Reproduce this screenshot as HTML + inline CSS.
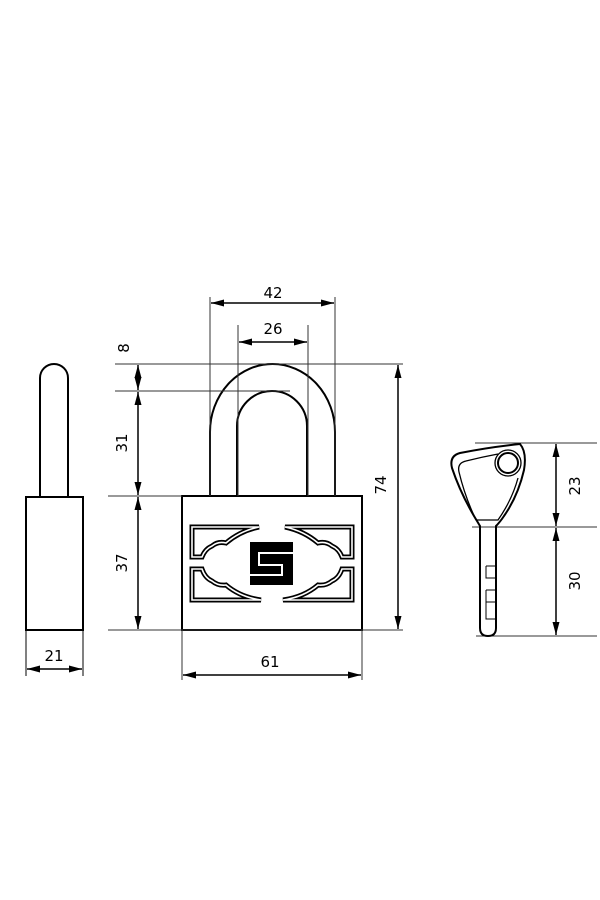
<!DOCTYPE html>
<html><head><meta charset="utf-8"><style>
html,body{margin:0;padding:0;background:#fff;}
svg{display:block;}
text{font-family:"DejaVu Sans","Liberation Sans",sans-serif;font-size:15px;fill:#000;}
</style></head><body>
<svg width="600" height="900" viewBox="0 0 600 900" xmlns="http://www.w3.org/2000/svg">
<defs>
<marker id="a" viewBox="0 0 13 8" refX="13" refY="4" markerWidth="13" markerHeight="8" markerUnits="userSpaceOnUse" orient="auto-start-reverse">
<path d="M0,0.5 L13,4 L0,7.5 Z" fill="#000"/>
</marker>
</defs>
<g fill="none" stroke="#000">
<!-- side view -->
<path d="M40,497 V378 A14,14 0 0 1 68,378 V497" stroke-width="2"/>
<rect x="26" y="497" width="57" height="133" stroke-width="2"/>
<path d="M26,630 V676 M83,630 V676" stroke-width="1"/>
<line x1="27" y1="669" x2="82" y2="669" stroke-width="1.5" marker-start="url(#a)" marker-end="url(#a)"/>

<!-- front shackle -->
<path d="M210,496 V432 A62.5,68 0 0 1 335,432 V496" stroke-width="2"/>
<path d="M237,496 V426 A35,35 0 0 1 307,426 V496" stroke-width="2"/>
<!-- body -->
<rect x="182" y="496" width="180" height="134" stroke-width="2"/>

<!-- extension lines -->
<g stroke-width="1" stroke="#333">
<path d="M210,297 V496 M335,297 V496 M238,325 V496 M308,325 V496"/>
<path d="M115,364 H403 M115,391 H290 M108,496 H182 M108,630 H403"/>
<path d="M182,630 V680 M362,630 V680"/>
<path d="M475,443 H597 M472,527 H597 M476,636 H597"/>
</g>
<!-- dimension lines -->
<g stroke-width="1.5">
<line x1="211" y1="303" x2="334" y2="303" marker-start="url(#a)" marker-end="url(#a)"/>
<line x1="239" y1="342" x2="307" y2="342" marker-start="url(#a)" marker-end="url(#a)"/>
<line x1="138" y1="365" x2="138" y2="390" marker-start="url(#a)" marker-end="url(#a)"/>
<line x1="138" y1="392" x2="138" y2="495" marker-start="url(#a)" marker-end="url(#a)"/>
<line x1="138" y1="497" x2="138" y2="629" marker-start="url(#a)" marker-end="url(#a)"/>
<line x1="398" y1="365" x2="398" y2="629" marker-start="url(#a)" marker-end="url(#a)"/>
<line x1="183" y1="675" x2="361" y2="675" marker-start="url(#a)" marker-end="url(#a)"/>
<line x1="556" y1="444" x2="556" y2="526" marker-start="url(#a)" marker-end="url(#a)"/>
<line x1="556" y1="528" x2="556" y2="635" marker-start="url(#a)" marker-end="url(#a)"/>
</g>

<!-- cutouts -->
<g id="cut">
<path d="M259,527 H192 V557 H202 Q205,549 212,546 Q218,541 226,543 Q240,531 259,527 Z" stroke-width="5"/>
<path d="M259,527 H192 V557 H202 Q205,549 212,546 Q218,541 226,543 Q240,531 259,527 Z" stroke="#fff" stroke-width="1.6"/>
<path d="M261,600 H192 V569 H202 Q205,578 212,581 Q218,586 226,585 Q240,597 261,600 Z" stroke-width="5"/>
<path d="M261,600 H192 V569 H202 Q205,578 212,581 Q218,586 226,585 Q240,597 261,600 Z" stroke="#fff" stroke-width="1.6"/>
</g>
<use href="#cut" transform="translate(544,0) scale(-1,1)"/>

<!-- key -->
<path d="M480,526 V628 Q480,636 488,636 Q496,636 496,628 V526 Q500,522 504,516 Q518,496 524,470 Q527,452 520,444 Q490,447 460,453 Q449,456 452,468 Q460,492 474,516 Q477,521 480,526 Z" stroke-width="2"/>
<path d="M476,520 Q465,497 459,472 Q457,463 466,461 Q482,457 498,454" stroke-width="1.3"/>
<path d="M476,520 H498 Q512,500 518,478" stroke-width="1.3"/>
<circle cx="508" cy="463" r="13" stroke-width="1.3"/>
<circle cx="508" cy="463" r="10" stroke-width="2"/>
<path d="M486,566 H496 M486,566 V578 H496 M486,590 H496 M486,590 V619 H496 M486,602 H496" stroke-width="1"/>
</g>

<!-- S logo -->
<rect x="250" y="542" width="43" height="43" fill="#000"/>
<path d="M293,553 H259 V565 H282 V575 H250" fill="none" stroke="#fff" stroke-width="2"/>

<!-- labels -->
<text x="273" y="298" text-anchor="middle">42</text>
<text x="273" y="334" text-anchor="middle">26</text>
<text x="54" y="661" text-anchor="middle">21</text>
<text x="270" y="667" text-anchor="middle">61</text>
<text transform="translate(129,348) rotate(-90)" text-anchor="middle">8</text>
<text transform="translate(127,443) rotate(-90)" text-anchor="middle">31</text>
<text transform="translate(127,563) rotate(-90)" text-anchor="middle">37</text>
<text transform="translate(386,485) rotate(-90)" text-anchor="middle">74</text>
<text transform="translate(580,486) rotate(-90)" text-anchor="middle">23</text>
<text transform="translate(580,581) rotate(-90)" text-anchor="middle">30</text>
</svg>
</body></html>
